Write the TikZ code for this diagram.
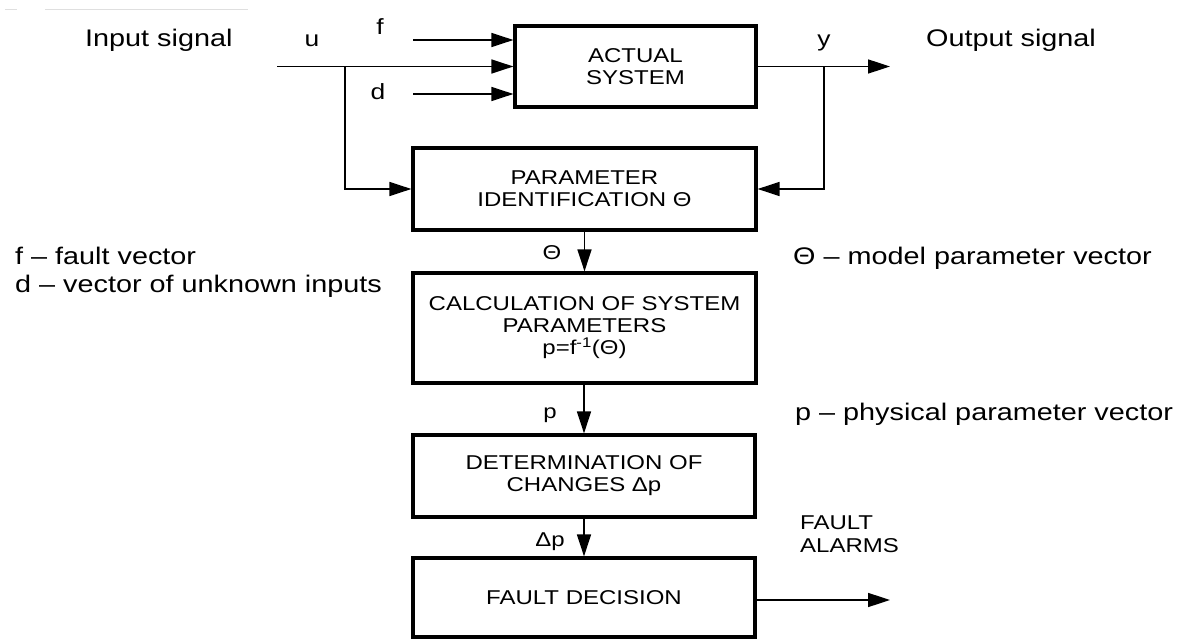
\documentclass[tikz,border=0pt]{standalone}
\usepackage{fontspec}
\setmainfont{Liberation Sans}[FakeStretch=1.2]
\usetikzlibrary{arrows.meta}
\begin{document}
\begin{tikzpicture}[x=1pt,y=-1pt,
  blk/.style={draw, line width=3.2pt, inner sep=0pt, align=center, font=\fontsize{20}{22}\selectfont},
  arr/.style={line width=1.6pt, -{Triangle[length=22pt,width=14pt]}},
  lbl/.style={inner sep=0pt, font=\fontsize{24}{27}\selectfont},
  sig/.style={inner sep=0pt, font=\fontsize{22}{26}\selectfont},
  sml/.style={inner sep=0pt, font=\fontsize{20}{23}\selectfont}]
\useasboundingbox (0,0) rectangle (1192,639);

% faint rule at the top left
\draw[gray!25, line width=0.6pt] (5,9) -- (17,9) (45,9) -- (248,9);

% blocks
\node[blk, minimum width=241pt, minimum height=81pt] (act) at (635.5,66.5) {ACTUAL\\SYSTEM};
\node[blk, minimum width=343pt, minimum height=82pt] (par) at (584.5,189) {PARAMETER\\IDENTIFICATION Θ};
\node[blk, minimum width=343pt, minimum height=110pt] (calc) at (584.5,328) {CALCULATION OF SYSTEM\\PARAMETERS\\p=f\textsuperscript{-1}(Θ)};
\node[blk, minimum width=342pt, minimum height=82pt] (det) at (584,476) {DETERMINATION OF\\CHANGES Δp};
\node[blk, minimum width=342pt, minimum height=79pt] (fd) at (584,597.5) {FAULT DECISION};

% coordinates
\coordinate (fs) at (413,40);
\coordinate (us) at (277,66.5);
\coordinate (ds) at (413,94);
\coordinate (ub) at (345,66.5);
\coordinate (ye) at (890,66.5);
\coordinate (yb) at (824,66.5);
\coordinate (fa) at (890,600);

% connectors
\draw[arr] (fs) -- (fs -| act.west);
\draw[arr] (us) -- (us -| act.west);
\draw[arr] (ds) -- (ds -| act.west);
\draw[arr] (ub) |- (par.west);
\draw[arr] (act.east) -- (ye);
\draw[arr] (yb) |- (par.east);
\draw[arr] (calc.north |- par.south) -- (calc.north);
\draw[arr] (det.north |- calc.south) -- (det.north);
\draw[arr] (fd.north |- det.south) -- (fd.north);
\draw[arr] (fd.east |- fa) -- (fa);

% labels
\node[lbl, anchor=base west] (tin) at (85,47) {Input signal};
\node[sig, anchor=base] (tu) at (312,47) {u};
\node[sig, anchor=base] (tf) at (380,35) {f};
\node[sig, anchor=base] (td) at (378,100) {d};
\node[sig, anchor=base] (ty) at (824,47) {y};
\node[lbl, anchor=base west] (tout) at (926,47) {Output signal};
\node[sml, anchor=base] (tth) at (552,260) {Θ};
\node[sml, anchor=base] (tp) at (550,418) {p};
\node[sml, anchor=base] (tdp) at (550,546) {Δp};
\node[lbl, anchor=base west] (lf) at (15,265) {f – fault vector};
\node[lbl, anchor=base west] (ld) at (15,292) {d – vector of unknown inputs};
\node[lbl, anchor=base west] (lth) at (793,265) {Θ – model parameter vector};
\node[lbl, anchor=base west] (lp) at (795,420) {p – physical parameter vector};
\node[sml, anchor=base west, align=left] (lfa) at (800,552) {FAULT\\ALARMS};
\end{tikzpicture}
\end{document}
